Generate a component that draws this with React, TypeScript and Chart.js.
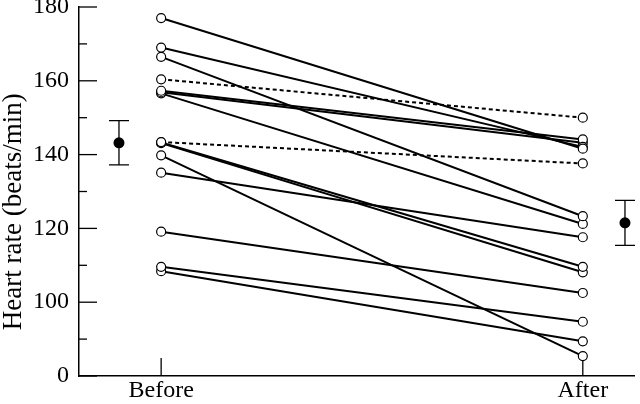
import React, { useEffect, useRef } from "react";
import { Chart, registerables } from "chart.js";

Chart.register(...registerables);

// ---- data ----
const groups = ["Before", "After"];
const groupPositions = [1, 2];
const beforeRates = [177, 169, 166.5, 160.4, 157.3, 156.9, 156.6, 143.4, 143.3, 143.1, 139.8, 135.1, 119.1, 109.6, 108.4];
const afterRates = [141.6, 142.1, 123.3, 150, 144.1, 143.2, 121.2, 137.6, 109.6, 108.1, 85.4, 117.6, 102.5, 94.7, 89.4];
const dashedPairs = [false, false, false, true, false, false, false, true, false, false, false, false, false, false, false];
const meanRates = [143.2, 121.5];
const meanErrors = [6, 6.1];
const yTickValues = [80, 90, 100, 110, 120, 130, 140, 150, 160, 170, 180];
const yTickLabels: Record<number, string> = { 80: "0", 100: "100", 120: "120", 140: "140", 160: "160", 180: "180" };
const yTitle = "Heart rate (beats/min)";

// ---- layout constants ----
const MEAN_OFFSET = 0.1;
const meanPositions = [groupPositions[0] - MEAN_OFFSET, groupPositions[1] + MEAN_OFFSET];
const FONT = "'Liberation Serif', 'Times New Roman', serif";

const inwardTicks = {
  id: "inwardTicks",
  beforeDatasetsDraw(chart: any) {
    const { ctx, chartArea, scales } = chart;
    const x = scales.x;
    const y = scales.y;
    ctx.save();
    ctx.strokeStyle = "#000";
    ctx.lineWidth = 1.3;
    yTickValues.forEach((v) => {
      const py = y.getPixelForValue(v);
      const len = yTickLabels[v] !== undefined ? 18 : 8;
      ctx.beginPath();
      ctx.moveTo(chartArea.left, py);
      ctx.lineTo(chartArea.left + len, py);
      ctx.stroke();
    });
    groupPositions.forEach((v) => {
      const px = x.getPixelForValue(v);
      ctx.beginPath();
      ctx.moveTo(px, chartArea.bottom);
      ctx.lineTo(px, chartArea.bottom - 18);
      ctx.stroke();
    });
    // error bars
    meanRates.forEach((m, i) => {
      const px = x.getPixelForValue(meanPositions[i]);
      const top = y.getPixelForValue(m + meanErrors[i]);
      const bot = y.getPixelForValue(m - meanErrors[i]);
      ctx.beginPath();
      ctx.moveTo(px, top);
      ctx.lineTo(px, bot);
      ctx.moveTo(px - 10, top);
      ctx.lineTo(px + 10, top);
      ctx.moveTo(px - 10, bot);
      ctx.lineTo(px + 10, bot);
      ctx.stroke();
    });
    ctx.restore();
  },
};

export default function App() {
  const canvasRef = useRef<HTMLCanvasElement | null>(null);

  useEffect(() => {
    document.body.style.margin = "0";
    const canvas = canvasRef.current;
    if (!canvas) return;

    const pairDatasets = beforeRates.map((b, i) => ({
      type: "line" as const,
      data: [
        { x: groupPositions[0], y: b },
        { x: groupPositions[1], y: afterRates[i] },
      ],
      borderColor: "#000",
      borderWidth: 2,
      borderDash: dashedPairs[i] ? [4, 3] : [],
      pointRadius: 4.5,
      pointBorderWidth: 1.2,
      pointBorderColor: "#000",
      pointBackgroundColor: "#fff",
      fill: false,
      tension: 0,
    }));

    const meanDataset = {
      type: "scatter" as const,
      data: meanRates.map((m, i) => ({ x: meanPositions[i], y: m })),
      pointRadius: 5.5,
      pointBorderWidth: 0,
      pointBackgroundColor: "#000",
      pointBorderColor: "#000",
    };

    const chart = new Chart(canvas, {
      type: "line",
      data: { datasets: [...pairDatasets, meanDataset] as any },
      options: {
        responsive: false,
        animation: false,
        layout: { padding: { top: 7, right: 0, left: 0, bottom: 0 } },
        plugins: { legend: { display: false }, tooltip: { enabled: false } },
        scales: {
          x: {
            type: "linear",
            min: 0.8052,
            max: 2.1221,
            afterBuildTicks: (s: any) => {
              s.ticks = groupPositions.map((v) => ({ value: v }));
            },
            afterFit: (s: any) => {
              s.height = 28;
              s.paddingLeft = 0;
              s.paddingRight = 0;
            },
            ticks: {
              callback: (v: any) => {
                const i = groupPositions.indexOf(Number(v));
                return i >= 0 ? groups[i] : "";
              },
              font: { family: FONT, size: 24 },
              color: "#000",
              padding: 0,
              maxRotation: 0,
              autoSkip: false,
            },
            grid: { drawOnChartArea: false, drawTicks: false },
            border: { color: "#000", width: 1.5 },
          },
          y: {
            type: "linear",
            min: 80,
            max: 180,
            afterBuildTicks: (s: any) => {
              s.ticks = yTickValues.map((v) => ({ value: v }));
            },
            afterFit: (s: any) => {
              s.width = 79;
              s.paddingTop = 0;
              s.paddingBottom = 0;
            },
            ticks: {
              callback: (v: any) => yTickLabels[Number(v)] ?? "",
              font: { family: FONT, size: 24 },
              color: "#000",
              padding: 10,
              autoSkip: false,
            },
            grid: { drawOnChartArea: false, drawTicks: false },
            border: { color: "#000", width: 1.5 },
            title: {
              display: true,
              text: yTitle + "      ",
              font: { family: FONT, size: 27, lineHeight: 1 },
              color: "#000",
              padding: { top: 0, bottom: 0 },
            },
          },
        },
      },
      plugins: [inwardTicks],
    });

    return () => chart.destroy();
  }, []);

  return (
    <div style={{ width: 640, height: 404 }}>
      <canvas ref={canvasRef} width={640} height={404} style={{ display: "block" }} />
    </div>
  );
}
